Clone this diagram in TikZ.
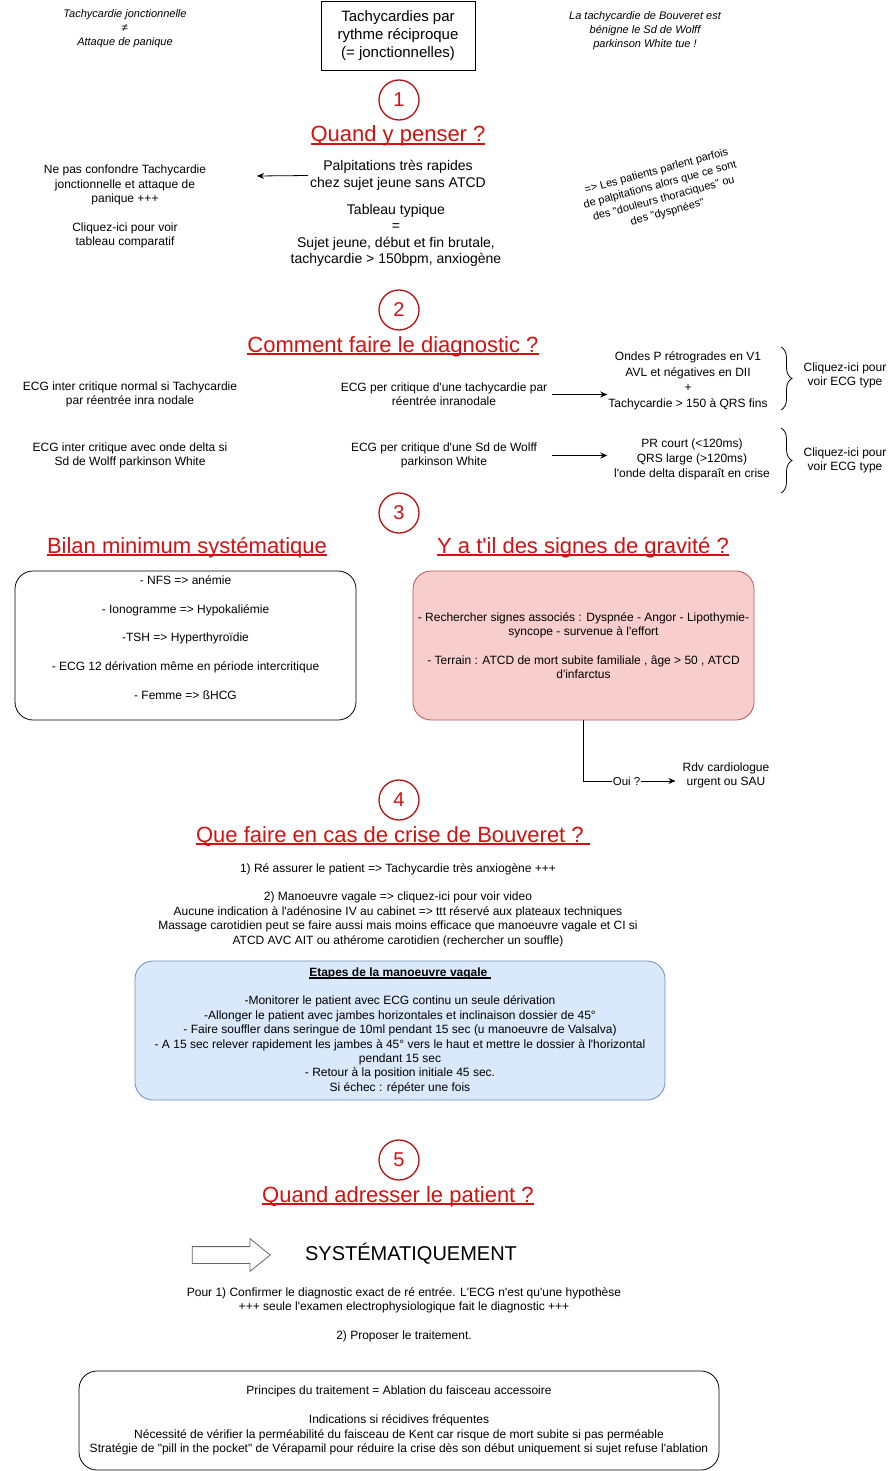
\documentclass[tikz,border=0pt]{standalone}
\usepackage{fontspec}
\setmainfont{Liberation Sans}[Ligatures=TeXOff]
\newcommand{\souligne}[1]{\setbox0\hbox{#1}\rlap{\rule[-2.6pt]{\wd0}{1.2pt}}\box0}
\usetikzlibrary{arrows.meta,shapes.arrows,decorations.pathreplacing}
\definecolor{hred}{RGB}{212,16,16}
\definecolor{cred}{RGB}{184,16,16}
\definecolor{rosefill}{HTML}{F8CECC}
\definecolor{rosedraw}{HTML}{B85450}
\definecolor{bluefill}{HTML}{DAE8FC}
\definecolor{bluedraw}{HTML}{6C8EBF}

\begin{document}
\begin{tikzpicture}[x=1pt, y=-1pt,
	txt/.style={align=center, inner sep=1pt, font=\fontsize{12}{14.4}\selectfont},
	note/.style={txt, font=\fontsize{11}{14}\selectfont\itshape},
	big/.style={txt, font=\fontsize{14}{16.5}\selectfont},
	head/.style={anchor=base, inner sep=0pt, text=hred, font=\fontsize{22}{26}\selectfont},
	num/.style={circle, draw=cred, line width=1.3pt, minimum size=40pt, inner sep=0pt, text=hred, font=\fontsize{20}{24}\selectfont},
	box/.style={rectangle, rounded corners=18pt, draw, line width=0.8pt, align=center, font=\fontsize{12}{14.4}\selectfont},
	arr/.style={-{Stealth[length=7pt, width=6pt]}, line width=0.8pt},
	brc/.style={decorate, decoration={brace, amplitude=11pt}, line width=0.8pt}]
	\useasboundingbox (0,0) rectangle (895,1471);

	\node (jonct) [note] at (125,29) {Tachycardie jonctionnelle\\≠\\Attaque de panique};
	\node (titre) [txt, draw, line width=0.8pt, minimum width=154pt, minimum height=69pt, font=\fontsize{15}{18}\selectfont] at (398,35.5) {Tachycardies par\\rythme réciproque\\(= jonctionnelles)};
	\node (bouv) [note] at (645,30.5) {La tachycardie de Bouveret est\\bénigne le Sd de Wolff\\parkinson White tue !};

	\node (n1) [num] at (399,100) {1};
	\node (q1) [head] at (398,142) {\souligne{Quand y penser ?}};
	\node (palp) [big] at (398,175.5) {Palpitations très rapides\\chez sujet jeune sans ATCD};
	\node (tabl) [big] at (396,235.5) {Tableau typique\\=\\Sujet jeune, début et fin brutale,\\tachycardie > 150bpm, anxiogène};
	\node (nepas) [txt] at (125,206.5) {Ne pas confondre Tachycardie\\jonctionnelle et attaque de\\panique +++\\[14.4pt]Cliquez-ici pour voir\\tableau comparatif};
	\node (plainte) [txt, rotate=15, font=\fontsize{11}{14.2}\selectfont] at (662,192) {=> Les patients parlent parfois\\de palpitations alors que ce sont\\des "douleurs thoraciques" ou\\des "dyspnées"};
	\coordinate (p1end) at (257,176);
	\draw [arr, shorten <=1pt] (palp.west) -- (p1end);

	\node (n2) [num] at (399,310) {2};
	\node (q2) [head] at (393,352) {\souligne{Comment faire le diagnostic ?}};
	\node (interA) [txt] at (130,394.5) {ECG inter critique normal si Tachycardie\\par réentrée inra nodale};
	\node (perA) [txt] at (444,394.5) {ECG per critique d'une tachycardie par\\réentrée inranodale};
	\node (ondes) [txt, font=\fontsize{12}{15.5}\selectfont] at (688,381) {Ondes P rétrogrades en V1\\AVL et négatives en DII\\+\\Tachycardie > 150 à QRS fins};
	\node (interB) [txt] at (130,455.5) {ECG inter critique avec onde delta si\\Sd de Wolff parkinson White};
	\node (perB) [txt] at (444,455.5) {ECG per critique d'une Sd de Wolff\\parkinson White};
	\node (prcourt) [txt, font=\fontsize{12}{15}\selectfont] at (692,459) {PR court (<120ms)\\QRS large (>120ms)\\l'onde delta disparaît en crise};
	\path [arr, shorten <=4pt] (perA.east) edge (perA.east -| ondes.west)
		(perB.east -| perA.east) edge (perB.east -| ondes.west);
	\coordinate (bA1) at (781,347);
	\coordinate (bA2) at (781,410);
	\coordinate (bB1) at (781,428);
	\coordinate (bB2) at (781,493);
	\draw [brc] (bA1) -- (bA2);
	\draw [brc] (bB1) -- (bB2);
	\node (clicA) [txt] at (845,375.5) {Cliquez-ici pour\\voir ECG type};
	\node (clicB) [txt] at (845,460.5) {Cliquez-ici pour\\voir ECG type};

	\node (n3) [num] at (399,513) {3};
	\node (q3a) [head] at (187,553) {\souligne{Bilan minimum systématique}};
	\node (q3b) [head] at (583,553) {\souligne{Y a t'il des signes de gravité ?}};
	\node (bilanbox) [box, minimum width=341pt, minimum height=149pt] at (185.5,645.5) {};
	\node (bilan) [txt] at (185.5,637.5) {- NFS => anémie\\[14.4pt]- Ionogramme => Hypokaliémie\\[14.4pt]-TSH => Hyperthyroïdie\\[14.4pt]- ECG 12 dérivation même en période intercritique\\[14.4pt]- Femme => ßHCG};
	\node (grav) [box, fill=rosefill, draw=rosedraw, minimum width=341pt, minimum height=149pt] at (583.5,645.5) {- Rechercher signes associés : Dyspnée - Angor - Lipothymie-\\syncope - survenue à l'effort\\[14.4pt]- Terrain : ATCD de mort subite familiale , âge > 50 , ATCD\\d'infarctus};
	\node (rdv) [txt] at (726,775.5) {Rdv cardiologue\\urgent ou SAU};
	\draw [arr, shorten >=6pt] (grav.south) |- node[pos=0.72, fill=white, inner sep=1pt, font=\fontsize{11.5}{13}\selectfont] {Oui ?} ([yshift=-5.5pt]rdv.west);

	\node (n4) [num] at (399,800) {4};
	\node (q4) [head] at (393,842) {\souligne{Que faire en cas de crise de Bouveret ?\ }};
	\node (crise) [txt] at (398,905) {1) Ré assurer le patient => Tachycardie très anxiogène +++\\[14.4pt]2) Manoeuvre vagale => cliquez-ici pour voir video\\Aucune indication à l'adénosine IV au cabinet => ttt réservé aux plateaux techniques\\Massage carotidien peut se faire aussi mais moins efficace que manoeuvre vagale et CI si\\ATCD AVC AIT ou athérome carotidien (rechercher un souffle)};
	\node (vagal) [box, fill=bluefill, draw=bluedraw, minimum width=530pt, minimum height=139pt] at (400,1030.5) {\textbf{\souligne{Etapes de la manoeuvre vagale\ }}\\[14.4pt]-Monitorer le patient avec ECG continu un seule dérivation\\-Allonger le patient avec jambes horizontales et inclinaison dossier de 45°\\- Faire souffler dans seringue de 10ml pendant 15 sec (u manoeuvre de Valsalva)\\- A 15 sec relever rapidement les jambes à 45° vers le haut et mettre le dossier à l'horizontal\\pendant 15 sec\\- Retour à la position initiale 45 sec.\\Si échec : répéter une fois};

	\node (n5) [num] at (399,1160) {5};
	\node (q5) [head] at (398,1202) {\souligne{Quand adresser le patient ?}};
	\node (fleche) [single arrow, draw=gray!80!black, line width=0.8pt, minimum height=78pt, inner xsep=0pt, inner ysep=8pt, single arrow head extend=8pt, single arrow tip angle=78] at (226,1255) {};
	\node (syst) [font=\fontsize{20}{24}\selectfont] at (411,1254) {SYSTÉMATIQUEMENT};
	\node (pour) [txt] at (404,1314.5) {Pour 1) Confirmer le diagnostic exact de ré entrée. L'ECG n'est qu'une hypothèse\\+++ seule l'examen electrophysiologique fait le diagnostic +++\\[14.4pt]2) Proposer le traitement.};
	\node (ttt) [box, minimum width=640pt, minimum height=99pt] at (399,1420.5) {Principes du traitement = Ablation du faisceau accessoire\\[14.4pt]Indications si récidives fréquentes\\Nécessité de vérifier la perméabilité du faisceau de Kent car risque de mort subite si pas perméable\\Stratégie de "pill in the pocket" de Vérapamil pour réduire la crise dès son début uniquement si sujet refuse l'ablation};
\end{tikzpicture}
\end{document}
